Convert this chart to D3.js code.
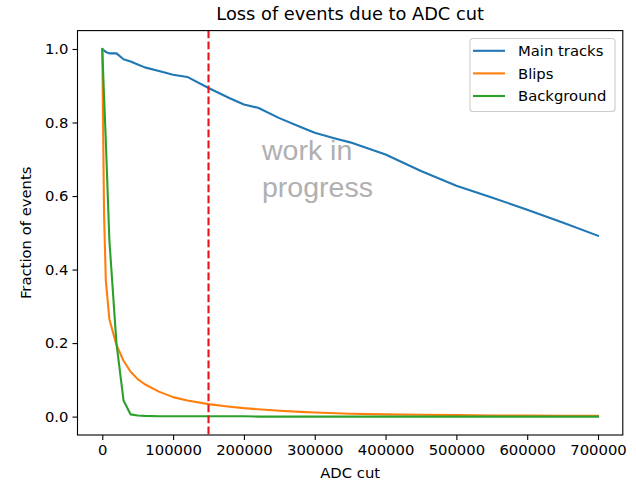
<!DOCTYPE html>
<html>
<head>
<meta charset="utf-8">
<script src="https://cdn.jsdelivr.net/npm/d3@7"></script>
<style>
    body { margin: 0; background: white; }
    svg { display: block; font-family: "DejaVu Sans", sans-serif; }
</style>
</head>
<body>
<svg id="grafica"></svg>
<script>
/**
 * Datos
 */
const cortesADC = [0, 2500, 5000, 10000, 20000, 30000, 40000, 50000, 60000, 80000, 100000, 120000,
    150000, 180000, 200000, 220000, 250000, 280000, 300000, 330000, 350000, 400000, 450000,
    500000, 550000, 600000, 650000, 700000];
const mainTracks = [1.0, 0.996, 0.992, 0.988, 0.988, 0.972, 0.966, 0.958, 0.950, 0.940, 0.930, 0.924,
    0.894, 0.866, 0.849, 0.840, 0.812, 0.788, 0.772, 0.756, 0.746, 0.713, 0.668,
    0.628, 0.596, 0.563, 0.528, 0.492];
const blips = [1.0, 0.55, 0.37, 0.265, 0.195, 0.152, 0.122, 0.102, 0.088, 0.068, 0.053, 0.044,
    0.034, 0.027, 0.023, 0.020, 0.016, 0.013, 0.011, 0.009, 0.008, 0.006, 0.005,
    0.004, 0.003, 0.003, 0.002, 0.002];
const background = [1.0, 0.87, 0.75, 0.48, 0.2, 0.044, 0.006, 0.003, 0.002, 0.001, 0.001, 0.001,
    0.001, 0.001, 0.001, 0.0, 0.0, 0.0, 0.0, 0.0, 0.0, 0.0, 0.0,
    0.0, 0.0, 0.0, 0.0, 0.0];
const nombresSeries = ["Main tracks", "Blips", "Background"];
const coloresSeries = ["#1f77b4", "#ff7f0e", "#2ca02c"];
const corteElegido = 150000;
const ticksX = [0, 100000, 200000, 300000, 400000, 500000, 600000, 700000];
const ticksY = [0.0, 0.2, 0.4, 0.6, 0.8, 1.0];

function graficarPerdida(svgId, ancho, alto) {

    const svg = d3.select('#' + svgId)
        .attr('width', ancho)
        .attr('height', alto);

    // caja de los ejes (como matplotlib)
    const margen = { left: 77.5, right: ancho - 622.8, top: 30.6, bottom: alto - 435 };
    const letra = "14.8px";

    const x = d3.scaleLinear()
        .domain([-35000, 735000])
        .range([margen.left, ancho - margen.right]);
    const y = d3.scaleLinear()
        .domain([-0.05, 1.05])
        .range([alto - margen.bottom, margen.top]);

    const series = [mainTracks, blips, background].map((valores, i) => ({
        nombre: nombresSeries[i],
        color: coloresSeries[i],
        puntos: cortesADC.map((c, j) => [c, valores[j]])
    }));

    /**
     * Ejes
     */
    const ejeX = svg.append("g")
        .attr("transform", `translate(0,${alto - margen.bottom})`)
        .call(d3.axisBottom(x).tickValues(ticksX).tickFormat(d3.format("d")).tickSize(5).tickPadding(4));
    const ejeY = svg.append("g")
        .attr("transform", `translate(${margen.left},0)`)
        .call(d3.axisLeft(y).tickValues(ticksY).tickFormat(d3.format(".1f")).tickSize(5).tickPadding(4));

    [ejeX, ejeY].forEach(eje => {
        eje.select(".domain").remove();
        eje.selectAll(".tick line").attr("stroke", "#000").attr("stroke-width", 1.1);
        eje.selectAll(".tick text")
            .attr("fill", "#000")
            .style("font-family", "DejaVu Sans")
            .style("font-size", letra);
    });

    /**
     * Lineas de datos
     */
    const linea = d3.line()
        .x(d => x(d[0]))
        .y(d => y(d[1]));

    svg.append("g")
        .selectAll("path")
        .data(series)
        .join("path")
        .attr("d", d => linea(d.puntos))
        .attr("fill", "none")
        .attr("stroke", d => d.color)
        .attr("stroke-width", 2.1)
        .attr("stroke-linejoin", "round")
        .attr("stroke-linecap", "square");

    // corte elegido
    svg.append("line")
        .attr("x1", x(corteElegido))
        .attr("x2", x(corteElegido))
        .attr("y1", margen.top)
        .attr("y2", alto - margen.bottom)
        .attr("stroke", "#e8141c")
        .attr("stroke-width", 2.1)
        .attr("stroke-dasharray", "7.7,3.3");

    // marco de los ejes
    svg.append("rect")
        .attr("x", margen.left)
        .attr("y", margen.top)
        .attr("width", ancho - margen.left - margen.right)
        .attr("height", alto - margen.top - margen.bottom)
        .attr("fill", "none")
        .attr("stroke", "#000")
        .attr("stroke-width", 1.1);

    /**
     * Textos
     */
    svg.append("text")
        .attr("x", (margen.left + ancho - margen.right) / 2)
        .attr("y", 20)
        .attr("text-anchor", "middle")
        .style("font-size", "17.8px")
        .text("Loss of events due to ADC cut");

    svg.append("text")
        .attr("x", (margen.left + ancho - margen.right) / 2)
        .attr("y", 478)
        .attr("text-anchor", "middle")
        .style("font-size", letra)
        .text("ADC cut");

    svg.append("text")
        .attr("transform", `translate(31,${(margen.top + alto - margen.bottom) / 2}) rotate(-90)`)
        .attr("text-anchor", "middle")
        .style("font-size", letra)
        .text("Fraction of events");

    svg.append("text")
        .attr("x", 262)
        .attr("y", 160)
        .attr("fill", "#b0b0b0")
        .style("font-family", "Liberation Sans")
        .style("font-size", "28.5px")
        .selectAll("tspan")
        .data(["work in", "progress"])
        .join("tspan")
        .attr("x", 262)
        .attr("dy", (d, i) => i === 0 ? 0 : 36.5)
        .text(d => d);

    /**
     * Leyenda
     */
    const leyenda = svg.append("g").attr("transform", "translate(470,38.5)");
    leyenda.append("rect")
        .attr("width", 145)
        .attr("height", 73)
        .attr("rx", 3)
        .attr("fill", "white")
        .attr("fill-opacity", 0.8)
        .attr("stroke", "#cccccc")
        .attr("stroke-width", 1.1);

    const entradas = leyenda.selectAll("g.entrada")
        .data(series)
        .join("g")
        .attr("class", "entrada")
        .attr("transform", (d, i) => `translate(0,${12.3 + i * 22.6})`);
    entradas.append("line")
        .attr("x1", 3)
        .attr("x2", 35)
        .attr("stroke", d => d.color)
        .attr("stroke-width", 2.1);
    entradas.append("text")
        .attr("x", 48)
        .attr("dy", "0.35em")
        .style("font-size", letra)
        .text(d => d.nombre);
}

graficarPerdida("grafica", 636, 483);
</script>
</body>
</html>
